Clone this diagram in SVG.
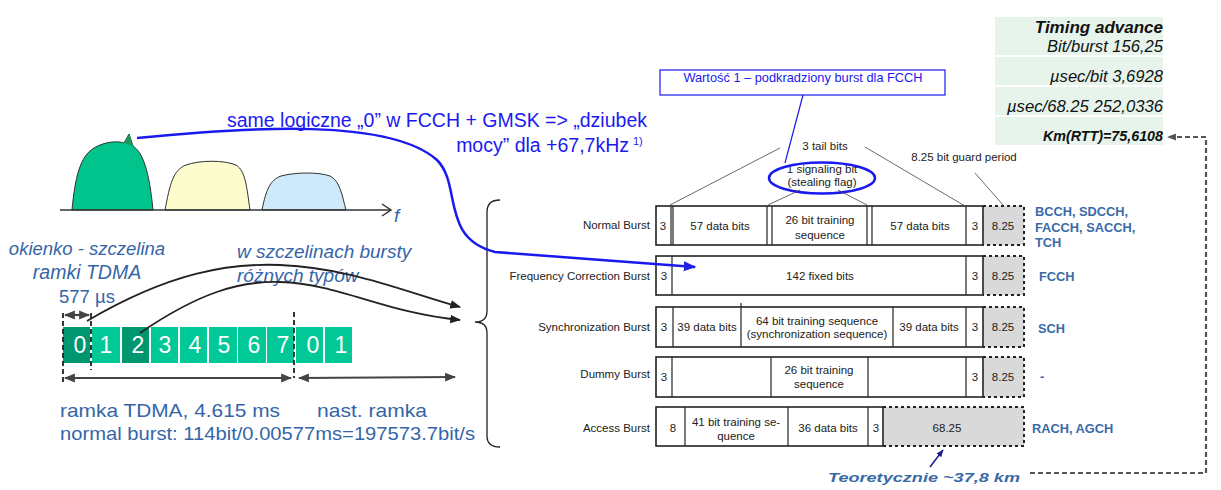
<svg xmlns="http://www.w3.org/2000/svg" width="1221" height="490" viewBox="0 0 1221 490">
<defs>
<style>
.sb{fill:#3565a8;font-family:"Liberation Sans",Arial,sans-serif}
.it{font-style:italic}
.bl{fill:#1a1af0;font-family:"Liberation Sans",Arial,sans-serif}
.lab{fill:#222;font-family:"Liberation Sans",Arial,sans-serif;font-size:11.5px}
.ch{fill:#3a6aa8;font-family:"Liberation Sans",Arial,sans-serif;font-size:12.8px;font-weight:bold}
.row{fill:#fff;stroke:#222;stroke-width:1.6}
.div{stroke:#222;stroke-width:1.2}
.guard{fill:#d9d9d9}
.gd{fill:none;stroke:#222;stroke-width:2;stroke-dasharray:3,3}
.slot{fill:#00c896}
.slotd{fill:#009670}
.dig{fill:#fff;font-family:"Liberation Sans",Arial,sans-serif;font-size:23px;text-anchor:middle}
.ta{fill:#e6f4ec}
.tt{fill:#111;font-family:"Liberation Sans",Arial,sans-serif;font-style:italic;text-anchor:end}
.thin{stroke:#444;stroke-width:0.8;fill:none}
.blk{fill:none;stroke:#222;stroke-width:1.8}
.dash{stroke:#222;stroke-width:1.8;stroke-dasharray:5,3}
</style>
<marker id="ab" viewBox="0 0 10 10" refX="9" refY="5" markerWidth="5" markerHeight="5" orient="auto-start-reverse"><path d="M0,1 L10,5 L0,9 Z" fill="#2020e0"/></marker>
<marker id="ak" viewBox="0 0 10 10" refX="9" refY="5" markerWidth="6" markerHeight="6" orient="auto-start-reverse"><path d="M0,1 L10,5 L0,9 Z" fill="#222"/></marker>
<marker id="ag" viewBox="0 0 10 10" refX="9" refY="5" markerWidth="5" markerHeight="5" orient="auto-start-reverse"><path d="M0,1 L10,5 L0,9 Z" fill="#444"/></marker>
<marker id="an" viewBox="0 0 10 10" refX="9" refY="5" markerWidth="5" markerHeight="5" orient="auto"><path d="M0,1 L10,5 L0,9 Z" fill="#1a1a8a"/></marker>
<marker id="ad" viewBox="0 0 10 10" refX="9" refY="5" markerWidth="4" markerHeight="4" orient="auto"><path d="M0,1 L10,5 L0,9 Z" fill="#555"/></marker>
</defs>

<!-- spectrum -->
<g id="spectrum">
<path d="M72,210 C75,178 80,156 94,148 C106,141 118,141 124,143 L129,134 L133,146 C142,152 149,168 153,210 Z" fill="#00c48c" stroke="#333" stroke-width="1"/>
<path d="M124,143 L129,134 L133,146 Z" fill="#1a9a5a"/>
<path d="M165,210 C170,184 173,170 186,165 C200,160 224,160 236,165 C246,171 247,190 250,210 Z" fill="#fdfccc" stroke="#333" stroke-width="1"/>
<path d="M262,210 C266,190 270,180 281,176 C296,172 319,172 330,176 C340,181 342,195 346,210 Z" fill="#cde9fa" stroke="#333" stroke-width="1"/>
<line x1="60" y1="210" x2="391" y2="210" stroke="#333" stroke-width="1.5"/>
<polyline points="382,204 391,210 382,216" fill="none" stroke="#333" stroke-width="1.5"/>
<text x="394" y="222" class="sb it" font-size="19">f</text>
</g>

<!-- blue note -->
<g id="note-fcch">
<text x="647" y="127" class="bl" font-size="19.5" text-anchor="end" textLength="420" lengthAdjust="spacingAndGlyphs">same logiczne „0” w FCCH + GMSK =&gt; „dziubek</text>
<text x="629" y="152" class="bl" font-size="19.5" text-anchor="end">mocy” dla +67,7kHz</text>
<text x="633" y="145" class="bl" font-size="11">1)</text>
</g>

<g id="note-wartosc">
<rect x="660" y="70" width="285" height="25" fill="#fff" stroke="#1a1af0" stroke-width="1.2"/>
<text x="803" y="82" class="bl" font-size="12.8" text-anchor="middle">Wartość 1 – podkradziony burst dla FCCH</text>
</g>

<!-- left texts -->
<g id="slot-label">
<text x="87" y="255" class="sb it" font-size="18.5" text-anchor="middle">okienko - szczelina</text>
<text x="87" y="279" class="sb it" font-size="19.5" text-anchor="middle">ramki TDMA</text>
<text x="87" y="303" class="sb" font-size="18.5" text-anchor="middle">577 µs</text>
</g>
<g id="burst-label">
<text x="237" y="258" class="sb it" font-size="19">w szczelinach bursty</text>
<text x="237" y="282" class="sb it" font-size="19">różnych typów</text>
</g>

<!-- slots -->
<g id="tdma-frame">
<rect x="63" y="327" width="27" height="36" class="slotd"/>
<rect x="92" y="327" width="28" height="36" class="slot"/>
<rect x="122" y="327" width="27" height="36" class="slotd"/>
<rect x="151" y="327" width="27" height="36" class="slot"/>
<rect x="180" y="327" width="27" height="36" class="slot"/>
<rect x="209" y="327" width="28" height="36" class="slot"/>
<rect x="238" y="327" width="28" height="36" class="slot"/>
<rect x="267" y="327" width="27" height="36" class="slot"/>
<rect x="296" y="327" width="27" height="36" class="slot"/>
<rect x="325" y="327" width="27" height="36" class="slot"/>
<text x="80" y="353" class="dig">0</text>
<text x="106" y="353" class="dig">1</text>
<text x="138" y="353" class="dig">2</text>
<text x="165" y="353" class="dig">3</text>
<text x="195" y="353" class="dig">4</text>
<text x="224" y="353" class="dig">5</text>
<text x="254" y="353" class="dig">6</text>
<text x="283" y="353" class="dig">7</text>
<text x="313" y="353" class="dig">0</text>
<text x="341" y="353" class="dig">1</text>
<line x1="63" y1="313" x2="63" y2="383" class="dash"/>
<line x1="91" y1="313" x2="91" y2="370" class="dash"/>
<line x1="294" y1="312" x2="294" y2="378" class="dash"/>
</g>

<g id="frame-texts">
<text x="60" y="417" class="sb" font-size="18.5" textLength="220" lengthAdjust="spacingAndGlyphs">ramka TDMA, 4.615 ms</text>
<text x="317" y="417" class="sb" font-size="18.5" textLength="110" lengthAdjust="spacingAndGlyphs">nast. ramka</text>
<text x="60" y="440" class="sb" font-size="18.5" textLength="415" lengthAdjust="spacingAndGlyphs">normal burst: 114bit/0.00577ms=197573.7bit/s</text>
</g>

<!-- bracket -->
<g id="brace">
<path d="M500,200 Q487,200 487,212 L487,311 Q487,322 475,322 Q487,322 487,333 L487,436 Q487,447 500,447" fill="none" stroke="#222" stroke-width="1.3"/>
</g>

<!-- burst rows -->
<g id="normal-burst">
<text x="650" y="229" class="lab" text-anchor="end">Normal Burst</text>
<rect x="983" y="206" width="41" height="39" class="guard"/>
<rect x="656" y="206" width="327" height="39" class="row"/>
<path d="M983,206 H1024 V245 H983" class="gd"/>
<line x1="671" y1="206" x2="671" y2="245" class="div"/><line x1="673" y1="206" x2="673" y2="245" class="div"/>
<line x1="767" y1="206" x2="767" y2="245" class="div"/><line x1="772" y1="206" x2="772" y2="245" class="div"/>
<line x1="867" y1="206" x2="867" y2="245" class="div"/><line x1="872" y1="206" x2="872" y2="245" class="div"/>
<line x1="966" y1="206" x2="966" y2="245" class="div"/>
<text x="663" y="230" class="lab" text-anchor="middle">3</text>
<text x="720" y="230" class="lab" text-anchor="middle">57 data bits</text>
<text x="820" y="224" class="lab" text-anchor="middle">26 bit training</text>
<text x="820" y="239" class="lab" text-anchor="middle">sequence</text>
<text x="920" y="230" class="lab" text-anchor="middle">57 data bits</text>
<text x="975" y="230" class="lab" text-anchor="middle">3</text>
<text x="1003" y="230" class="lab" text-anchor="middle">8.25</text>
</g>

<g id="fc-burst">
<text x="650" y="280" class="lab" text-anchor="end">Frequency Correction Burst</text>
<rect x="983" y="256" width="41" height="39" class="guard"/>
<rect x="656" y="256" width="327" height="39" class="row"/>
<path d="M983,256 H1024 V295 H983" class="gd"/>
<line x1="672" y1="256" x2="672" y2="295" class="div"/>
<line x1="966" y1="256" x2="966" y2="295" class="div"/>
<text x="664" y="280" class="lab" text-anchor="middle">3</text>
<text x="820" y="280" class="lab" text-anchor="middle">142 fixed bits</text>
<text x="975" y="280" class="lab" text-anchor="middle">3</text>
<text x="1003" y="280" class="lab" text-anchor="middle">8.25</text>
</g>

<g id="sync-burst">
<text x="650" y="331" class="lab" text-anchor="end">Synchronization Burst</text>
<rect x="983" y="307" width="41" height="40" class="guard"/>
<rect x="656" y="307" width="327" height="40" class="row"/>
<path d="M983,307 H1024 V347 H983" class="gd"/>
<line x1="673" y1="307" x2="673" y2="347" class="div"/>
<line x1="741" y1="303" x2="741" y2="347" class="div"/>
<line x1="893" y1="307" x2="893" y2="347" class="div"/>
<line x1="966" y1="307" x2="966" y2="347" class="div"/>
<text x="664" y="331" class="lab" text-anchor="middle">3</text>
<text x="707" y="331" class="lab" text-anchor="middle">39 data bits</text>
<text x="817" y="325" class="lab" text-anchor="middle">64 bit training sequence</text>
<text x="817" y="338" class="lab" text-anchor="middle">(synchronization sequence)</text>
<text x="929" y="331" class="lab" text-anchor="middle">39 data bits</text>
<text x="975" y="331" class="lab" text-anchor="middle">3</text>
<text x="1003" y="331" class="lab" text-anchor="middle">8.25</text>
</g>

<g id="dummy-burst">
<text x="650" y="378" class="lab" text-anchor="end">Dummy Burst</text>
<rect x="983" y="357" width="41" height="40" class="guard"/>
<rect x="656" y="357" width="327" height="40" class="row"/>
<path d="M983,357 H1024 V397 H983" class="gd"/>
<line x1="672" y1="357" x2="672" y2="397" class="div"/>
<line x1="771" y1="357" x2="771" y2="397" class="div"/>
<line x1="868" y1="357" x2="868" y2="397" class="div"/>
<line x1="966" y1="357" x2="966" y2="397" class="div"/>
<text x="664" y="381" class="lab" text-anchor="middle">3</text>
<text x="819" y="374" class="lab" text-anchor="middle">26 bit training</text>
<text x="819" y="388" class="lab" text-anchor="middle">sequence</text>
<text x="975" y="381" class="lab" text-anchor="middle">3</text>
<text x="1003" y="381" class="lab" text-anchor="middle">8.25</text>
</g>

<g id="access-burst">
<text x="650" y="432" class="lab" text-anchor="end">Access Burst</text>
<rect x="883" y="407" width="141" height="39" class="guard"/>
<rect x="656" y="407" width="227" height="39" class="row"/>
<path d="M883,407 H1024 V446 H883" class="gd"/>
<line x1="685" y1="407" x2="685" y2="446" class="div"/>
<line x1="788" y1="407" x2="788" y2="446" class="div"/>
<line x1="868" y1="407" x2="868" y2="446" class="div"/>
<text x="673" y="432" class="lab" text-anchor="middle">8</text>
<text x="736" y="426" class="lab" text-anchor="middle">41 bit training se-</text>
<text x="736" y="440" class="lab" text-anchor="middle">quence</text>
<text x="828" y="432" class="lab" text-anchor="middle">36 data bits</text>
<text x="876" y="432" class="lab" text-anchor="middle">3</text>
<text x="947" y="432" class="lab" text-anchor="middle">68.25</text>
</g>

<!-- burst annotations -->
<g id="annotations">
<text x="825" y="150" class="lab" text-anchor="middle">3 tail bits</text>
<text x="964" y="161" class="lab" text-anchor="middle">8.25 bit guard period</text>
<text x="822" y="173" class="lab" text-anchor="middle">1 signaling bit</text>
<text x="822" y="186" class="lab" text-anchor="middle">(stealing flag)</text>
<ellipse cx="822" cy="178" rx="53" ry="15.5" fill="none" stroke="#1a1af0" stroke-width="2.5"/>
</g>

<!-- channel labels -->
<g id="channels">
<text x="1035" y="216" class="ch">BCCH, SDCCH,</text>
<text x="1035" y="232" class="ch">FACCH, SACCH,</text>
<text x="1035" y="247" class="ch">TCH</text>
<text x="1039" y="281" class="ch">FCCH</text>
<text x="1038" y="333" class="ch">SCH</text>
<text x="1040" y="381" class="ch">-</text>
<text x="1032" y="433" class="ch">RACH, AGCH</text>
</g>

<!-- timing advance -->
<g id="timing-advance">
<rect x="995" y="17" width="168" height="38" class="ta"/>
<rect x="995" y="57" width="168" height="28" class="ta"/>
<rect x="995" y="87" width="168" height="28" class="ta"/>
<rect x="995" y="117" width="168" height="28" class="ta"/>
<text x="1163" y="33" class="tt" font-size="17" font-weight="bold">Timing advance</text>
<text x="1163" y="52" class="tt" font-size="16" textLength="116" lengthAdjust="spacingAndGlyphs">Bit/burst 156,25</text>
<text x="1163" y="82" class="tt" font-size="16" textLength="113" lengthAdjust="spacingAndGlyphs">µsec/bit 3,6928</text>
<text x="1163" y="112" class="tt" font-size="16" textLength="156" lengthAdjust="spacingAndGlyphs">µsec/68.25 252,0336</text>
<text x="1163" y="141" class="tt" font-size="14" font-weight="bold" textLength="120" lengthAdjust="spacingAndGlyphs">Km(RTT)=75,6108</text>
</g>

<g id="theoretical">
<text x="828" y="482" class="ch it" font-size="18" textLength="192" lengthAdjust="spacingAndGlyphs">Teoretycznie ~37,8  km</text>
</g>

<!-- connectors -->
<g id="connectors">
<path d="M137,138 C250,127 390,118 437,160 C462,185 440,238 495,252 L695,267" fill="none" stroke="#1a1af0" stroke-width="2.5" marker-end="url(#ab)"/>
<line x1="803" y1="95" x2="785" y2="163" stroke="#1a1af0" stroke-width="1.2"/>
<line x1="780" y1="148" x2="670" y2="205" class="thin"/>
<line x1="865" y1="147" x2="965" y2="206" class="thin"/>
<line x1="800" y1="190" x2="768" y2="205" class="thin"/>
<line x1="838" y1="190" x2="867" y2="205" class="thin"/>
<line x1="975" y1="173" x2="1003" y2="205" class="thin"/>
<path d="M87,321 C170,272 230,263 280,265 C350,268 400,290 460,307" class="blk" marker-end="url(#ak)"/>
<path d="M140,333 C200,292 240,281 280,282 C340,284 385,313 460,320" class="blk" marker-end="url(#ak)"/>
<line x1="65" y1="315" x2="89" y2="315" stroke="#444" stroke-width="2.2" marker-start="url(#ag)" marker-end="url(#ag)"/>
<line x1="65" y1="378" x2="291" y2="378" stroke="#444" stroke-width="2.2" marker-start="url(#ag)" marker-end="url(#ag)"/>
<line x1="299" y1="378" x2="455" y2="377" stroke="#444" stroke-width="2.2" marker-start="url(#ag)" marker-end="url(#ag)"/>
<line x1="930" y1="467" x2="943" y2="450" stroke="#1a1a8a" stroke-width="1.5" marker-end="url(#an)"/>
<path d="M1030,473 H1206 V137 H1168" fill="none" stroke="#555" stroke-width="2.2" stroke-dasharray="5,3" marker-end="url(#ad)"/>
</g>
</svg>
